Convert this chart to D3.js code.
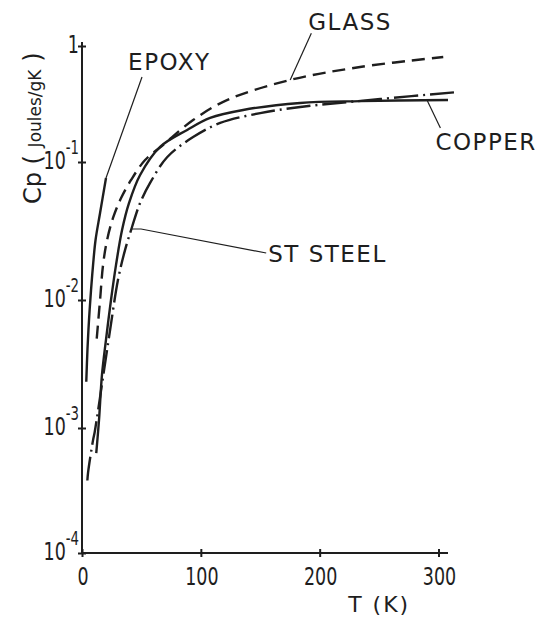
<!DOCTYPE html>
<html>
<head>
<meta charset="utf-8">
<script src="https://cdn.jsdelivr.net/npm/d3@7"></script>
<style>
    body { margin: 0; background: #fff; }
    text { font-family: "DejaVu Sans", sans-serif; fill: #1e1e1e; }
</style>
</head>
<body>
<svg id="chart" width="540" height="618"></svg>
<script>
// values: T in K, Cp in J/gK
const epoxyT = [3.6, 4.6, 5.9, 7.6, 9.3, 11.4, 15.2, 20.2]
const epoxyCp = [0.0023, 0.0041, 0.0070, 0.0118, 0.0179, 0.0272, 0.0427, 0.0766]

const glassT = [12.4, 15.2, 17.7, 21.1, 26.1, 32.9, 41.3, 53.1, 68.2, 93.5, 122, 175, 234, 304]
const glassCp = [0.0050, 0.0100, 0.0179, 0.0272, 0.0393, 0.0548, 0.0741, 0.104, 0.140, 0.230, 0.342, 0.509, 0.659, 0.804]

const copperT = [12.0, 14.3, 16.8, 20.2, 24.4, 28.6, 33.7, 39.6, 48.9, 65.7, 88.5, 107.8, 135.6, 183.6, 234, 308]
const copperCp = [0.00063, 0.00115, 0.0026, 0.0049, 0.0100, 0.0179, 0.0321, 0.0505, 0.0805, 0.135, 0.189, 0.240, 0.281, 0.323, 0.335, 0.342]

const steelT = [4.5, 5.1, 9.3, 10.7, 17.7, 23.6, 30.3, 36.2, 42.1, 48.9, 57.3, 71.6, 93.5, 116.3, 150, 183.6, 251, 316]
const steelCp = [0.00038, 0.00044, 0.00080, 0.00093, 0.0025, 0.0058, 0.0140, 0.0230, 0.0338, 0.0505, 0.0705, 0.110, 0.164, 0.217, 0.264, 0.298, 0.349, 0.401]

const xTicks = [0, 100, 200, 300]
const yTicks = [1e-4, 1e-3, 1e-2, 1e-1, 1]
const yExp = ['-4', '-3', '-2', '-1', '']

// labels and their leader lines (T, Cp)
const labelNames = ['EPOXY', 'GLASS', 'COPPER', 'ST STEEL']
const labelT = [38.8, 190.4, 297.4, 156.7]
const labelCp = [0.621, 1.37, 0.127, 0.0188]
const leaders = [
    [[20.2, 0.0766], [50.5, 0.541]],
    [[175.2, 0.509], [193, 1.29]],
    [[290.7, 0.335], [301.6, 0.196]],
    [[41.3, 0.0327], [49.7, 0.0327], [155, 0.0219]]
]

const SVG = d3.select("#chart")
const ink = "#1e1e1e"
const squeeze = 0.7   // the lettering digits are narrow

const x = d3.scaleLinear().domain([0, 308]).range([82, 448])
// hand drawn decades are not evenly spaced
const y = d3.scaleLog().domain([1e-4, 1e-3, 1e-2, 1e-1, 1]).range([553, 428, 300, 162, 46])

const series = [
    { T: epoxyT, cp: epoxyCp, dash: null },
    { T: glassT, cp: glassCp, dash: "13,7" },
    { T: copperT, cp: copperCp, dash: null },
    { T: steelT, cp: steelCp, dash: "24,5,2,5" }
]

// axes
SVG.append("line")
    .attr("x1", x(0)).attr("x2", x(0))
    .attr("y1", y(1e-4)).attr("y2", y(1.08))
    .attr("stroke", ink).attr("stroke-width", 2)

SVG.append("line")
    .attr("x1", x(0)).attr("x2", x(308))
    .attr("y1", y(1e-4)).attr("y2", y(1e-4))
    .attr("stroke", ink).attr("stroke-width", 2)

const left = d3.axisLeft(y).tickValues(yTicks).tickSize(4).tickFormat("")
const right = d3.axisRight(y).tickValues(yTicks).tickSize(4).tickFormat("")
const bottom = d3.axisBottom(x).tickValues(xTicks).tickSize(4).tickFormat("")
const upper = d3.axisTop(x).tickValues(xTicks).tickSize(4).tickFormat("")

for (let ax of [left, right]) {
    SVG.append("g")
        .attr("transform", `translate(${x(0)}, 0)`)
        .call(ax)
        .call(g => g.select(".domain").remove())
        .call(g => g.selectAll("line").attr("stroke", ink).attr("stroke-width", 2))
}
for (let ax of [bottom, upper]) {
    SVG.append("g")
        .attr("transform", `translate(0, ${y(1e-4)})`)
        .call(ax)
        .call(g => g.select(".domain").remove())
        .call(g => g.selectAll("line").attr("stroke", ink).attr("stroke-width", 2))
}

// tick labels
for (let t of xTicks) {
    SVG.append("text")
        .text(t)
        .attr("transform", `translate(${x(t) + 1}, ${y(1e-4) + 32}) scale(${squeeze}, 1)`)
        .style("text-anchor", "middle")
        .style("font-size", "25px")
}

yTicks.forEach((v, i) => {
    let label = SVG.append("text")
        .attr("transform", `translate(${x(0) - 3}, ${y(v) + 7}) scale(${squeeze}, 1)`)
        .style("text-anchor", "end")
        .style("font-size", "25px")
    if (yExp[i] == '') {
        label.text("1")
    } else {
        label.append("tspan").text("10")
        label.append("tspan").text(yExp[i])
            .attr("dy", -15)
            .style("font-size", "19px")
    }
})

// axis titles
SVG.append("text")
    .text("T (K)")
    .attr("x", x(224))
    .attr("y", 612)
    .style("font-size", "22px")
    .style("letter-spacing", "2px")

let ytitle = SVG.append("text")
    .attr("transform", `translate(41, 204) rotate(-90)`)
    .style("font-size", "24px")
ytitle.append("tspan").text("Cp ( ")
ytitle.append("tspan").text("Joules/gK").style("font-size", "17px")
ytitle.append("tspan").text(" )")

// curves
const line = d3.line()
    .x(d => x(d[0]))
    .y(d => y(d[1]))
    .curve(d3.curveCatmullRom.alpha(0.5))

for (let s of series) {
    SVG.append("path")
        .datum(s.T.map((t, i) => [t, s.cp[i]]))
        .attr("d", line)
        .attr("fill", "none")
        .attr("stroke", ink)
        .attr("stroke-width", 2.4)
        .attr("stroke-dasharray", s.dash)
}

// annotations
const leaderLine = d3.line().x(d => x(d[0])).y(d => y(d[1]))

labelNames.forEach((name, i) => {
    SVG.append("path")
        .attr("d", leaderLine(leaders[i]))
        .attr("fill", "none")
        .attr("stroke", ink)
        .attr("stroke-width", 1.2)

    SVG.append("text")
        .text(name)
        .attr("x", x(labelT[i]))
        .attr("y", y(labelCp[i]))
        .style("font-size", "23px")
        .style("letter-spacing", "1.5px")
})
</script>
</body>
</html>
